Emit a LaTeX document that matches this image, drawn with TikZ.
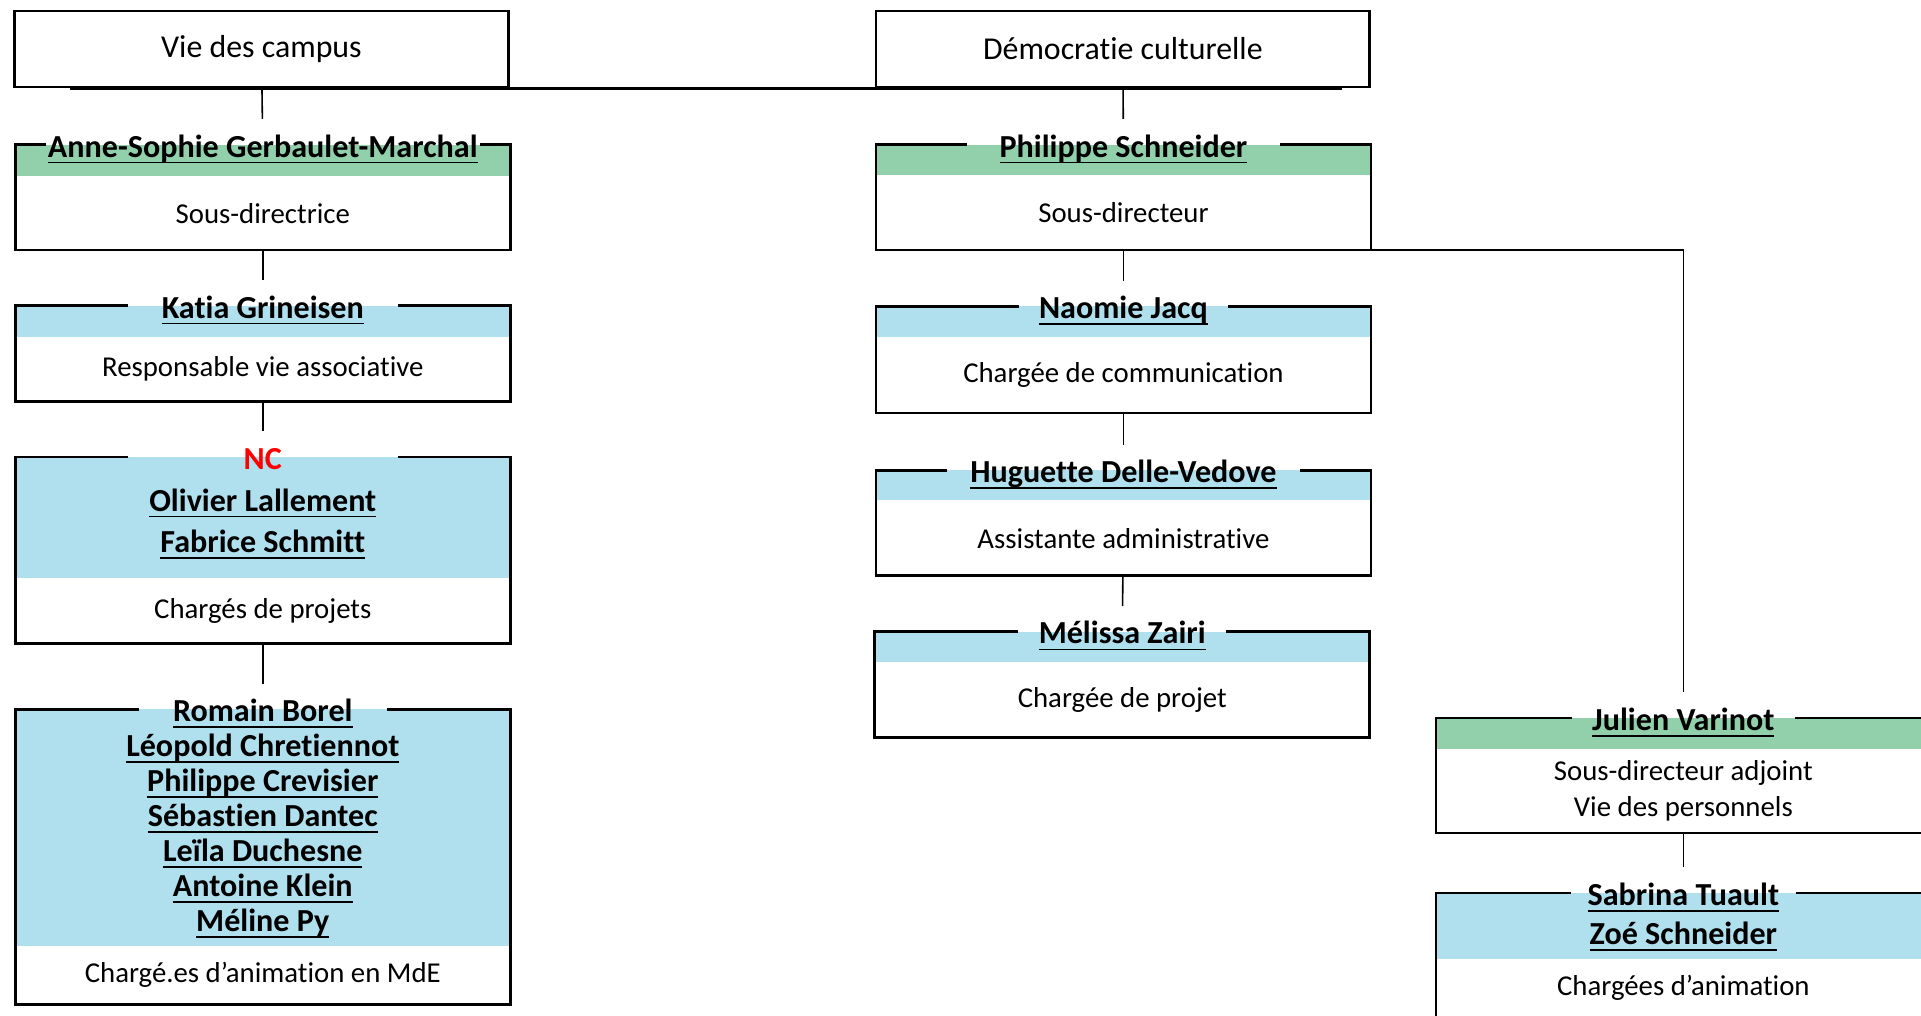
\documentclass[tikz,border=0pt]{standalone}
\usepackage{fontspec}
\setmainfont{Carlito}[Ligatures=NoCommon]
\definecolor{bandgreen}{RGB}{146,208,172}
\definecolor{bandblue}{RGB}{176,223,238}
\newsavebox{\nmbox}
\newcommand{\nm}[1]{\sbox{\nmbox}{#1}\strut\rlap{\rule[-5.2pt]{\wd\nmbox}{1.5pt}}\usebox{\nmbox}}
\newcommand{\orgbox}[9]{%
  \node[frame, minimum height=#4pt] (#1) at (#2,#3) {};
  \fill[#6] (#1.north west) rectangle ([yshift=-#5pt]#1.north east);
  \node[who] (#1n) at (#2,#3) {#8};
  \node[what] (#1r) at (#2,{#3+(#4+#5)/2}) {#9};
  \draw[rim] (#2-#7,#3) -- (#1.north west) -- (#1.south west)
    -- (#1.south east) -- (#1.north east) -- (#2+#7,#3);
}
\begin{document}
\begin{tikzpicture}[x=1pt, y=-1pt,
    frame/.style={anchor=north, minimum width=404pt, inner sep=0pt, outer sep=0pt},
    who/.style={anchor=north, yshift=21pt, inner xsep=0pt, inner ysep=11pt, align=center,
      font=\fontsize{26.2}{28.5}\selectfont\bfseries},
    what/.style={align=center, inner sep=0pt, font=\fontsize{23.5}{29}\selectfont},
    rim/.style={line width=2.2pt},
    link/.style={line width=1.3pt},
    head/.style={draw, line width=2pt, minimum width=403pt, minimum height=62pt,
      font=\fontsize{26}{29}\selectfont}]
  \useasboundingbox (0,0) rectangle (1568,829.3);
  \clip (0,0) rectangle (1568,829.3);

  \node[head] (vc) at (213.4,40) {Vie des campus};
  \node[head] (dc) at (916.5,40) {Démocratie culturelle};

  \orgbox{as}{214.5}{118}{86}{26}{bandgreen}{177}{\nm{Anne-Sophie Gerbaulet-Marchal}}{Sous-directrice}
  \orgbox{kg}{214.5}{249.5}{78}{25.5}{bandblue}{110}{\nm{Katia Grineisen}}{Responsable vie associative}
  \orgbox{nc}{214.5}{373}{152}{99}{bandblue}{110}{{\color{red}\strut NC}\\[5.5pt]\nm{Olivier Lallement}\\[5.5pt]\nm{Fabrice Schmitt}}{Chargés de projets}
  \orgbox{rb}{214.5}{579}{241}{193}{bandblue}{101}{\nm{Romain Borel}\\\nm{Léopold Chretiennot}\\\nm{Philippe Crevisier}\\\nm{Sébastien Dantec}\\\nm{Leïla Duchesne}\\\nm{Antoine Klein}\\\nm{Méline Py}}{Chargé.es d’animation en MdE}

  \orgbox{ps}{917}{118}{86}{25}{bandgreen}{128}{\nm{Philippe Schneider}}{Sous-directeur}
  \orgbox{nj}{917}{250}{87}{25}{bandblue}{85}{\nm{Naomie Jacq}}{Chargée de communication}
  \orgbox{hd}{917}{384}{86}{24.5}{bandblue}{144}{\nm{Huguette Delle-Vedove}}{Assistante administrative}
  \orgbox{mz}{916}{515.5}{86.5}{25}{bandblue}{85}{\nm{Mélissa Zairi}}{Chargée de projet}

  \orgbox{jv}{1374}{586}{94}{25}{bandgreen}{91}{\nm{Julien Varinot}}{Sous-directeur adjoint\\Vie des personnels}
  \orgbox{st}{1374}{729}{101}{54}{bandblue}{92}{\nm{Sabrina Tuault}\\[3.5pt]\nm{Zoé Schneider}}{Chargées d’animation}

  \draw[rim] ([xshift=46pt]vc.south west) -- ([xshift=-24pt]dc.south east);
  \draw[link] (vc) -- (asn);
  \draw[link] (as) -- (kgn);
  \draw[link] (kg) -- (ncn);
  \draw[link] (nc) -- (rbn);
  \draw[link] (dc) -- (psn);
  \draw[link] (ps) -- (njn);
  \draw[link] (nj) -- (hdn);
  \draw[link] (hd) -- (mzn);
  \draw[link] (ps.south east) -| (jvn);
  \draw[link] (jv) -- (stn);
\end{tikzpicture}
\end{document}
